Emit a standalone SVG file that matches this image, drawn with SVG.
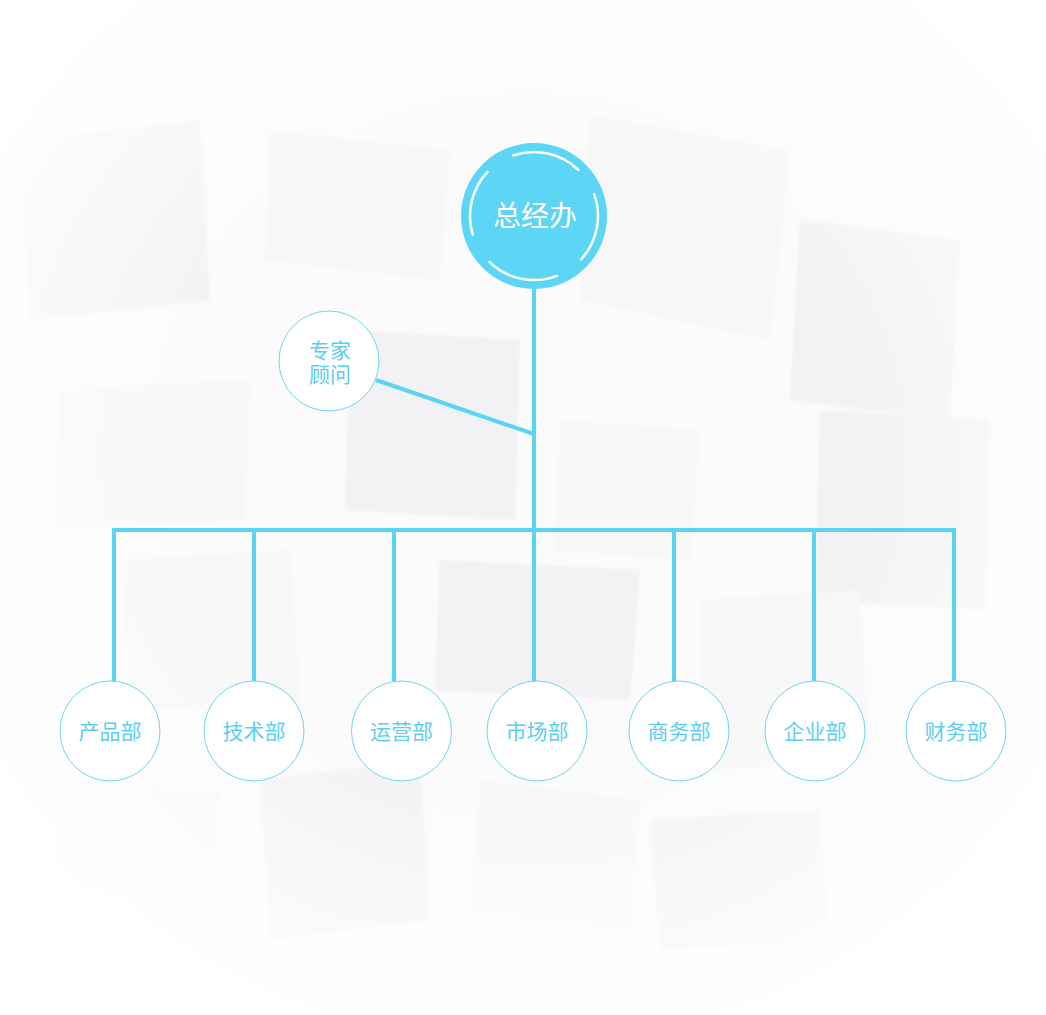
<svg xmlns="http://www.w3.org/2000/svg" width="1046" height="1015" viewBox="0 0 1046 1015">
<defs>
<style>
.dept{fill:#ffffff;stroke:#6fd4f1;stroke-width:1}
.lbl{font-family:"Noto Sans CJK SC","Noto Sans",sans-serif;font-size:21px;fill:#5ccff0;text-anchor:middle}
.lbl2{font-family:"Liberation Sans","Noto Sans CJK SC",sans-serif;font-size:21px;fill:#5ccff0;text-anchor:middle}
.conn{stroke:#5bd3f2;stroke-width:4;fill:none}
.ring{stroke:#ffffff;stroke-width:2.5;fill:none;stroke-linecap:round}
.cube{fill:#f2f2f4}
.cube2{fill:#f7f7f8}
</style>
<radialGradient id="fade" cx="50%" cy="45%" r="62%">
<stop offset="0.5" stop-color="#ffffff" stop-opacity="0"/>
<stop offset="1" stop-color="#ffffff" stop-opacity="1"/>
</radialGradient>
<filter id="soft" x="-5%" y="-5%" width="110%" height="110%">
<feGaussianBlur stdDeviation="1.5"/>
</filter>
</defs>
<rect width="1046" height="1015" fill="#fbfbfc"/>
<g id="background" filter="url(#soft)">
<polygon class="cube" points="20,140 200,120 210,300 30,320"/>
<polygon class="cube2" points="270,130 450,150 440,280 265,260"/>
<polygon class="cube2" points="590,115 790,150 770,340 580,300"/>
<polygon class="cube" points="800,220 960,240 950,420 790,400"/>
<polygon class="cube2" points="60,390 250,380 245,520 55,530"/>
<polygon class="cube" points="350,330 520,340 515,520 345,510"/>
<polygon class="cube2" points="560,420 700,430 690,560 555,550"/>
<polygon class="cube" points="820,410 990,420 985,610 815,600"/>
<polygon class="cube2" points="120,560 290,550 300,700 130,710"/>
<polygon class="cube" points="440,560 640,570 630,700 435,690"/>
<polygon class="cube2" points="700,600 860,590 870,760 705,770"/>
<polygon class="cube" points="260,780 420,760 430,920 270,940"/>
<polygon class="cube2" points="480,780 640,800 630,930 470,910"/>
<polygon class="cube" points="650,820 820,810 830,940 660,950"/>
<polygon class="cube2" points="60,780 220,790 210,900 55,890"/>
</g>
<rect width="1046" height="1015" fill="url(#fade)"/>
<g id="connectors">
<line class="conn" x1="534" y1="280" x2="534" y2="532"/>
<line class="conn" x1="376" y1="380" x2="534" y2="434"/>
<polyline class="conn" points="114,681 114,530 954,530 954,681"/>
<line class="conn" x1="254" y1="530" x2="254" y2="681"/>
<line class="conn" x1="394" y1="530" x2="394" y2="681"/>
<line class="conn" x1="534" y1="530" x2="534" y2="681"/>
<line class="conn" x1="674" y1="530" x2="674" y2="681"/>
<line class="conn" x1="814" y1="530" x2="814" y2="681"/>
</g>
<g id="node-zongjingban">
<circle cx="534" cy="216" r="73" fill="#5dd5f4"/>
<path class="ring" d="M513.2,155.5 A64,64 0 0 1 578.5,170"/>
<path class="ring" d="M594.1,194.1 A64,64 0 0 1 581.1,259.3"/>
<path class="ring" d="M556.9,275.8 A64,64 0 0 1 489.5,262"/>
<path class="ring" d="M472.8,234.7 A64,64 0 0 1 487.6,171.9"/>
<text x="535" y="226" font-family="'Noto Sans CJK SC','Noto Sans',sans-serif" font-size="28" fill="#ffffff" text-anchor="middle">总经办</text>
</g>
<g id="node-zhuanjiaguwen">
<circle class="dept" cx="329" cy="361" r="50"/>
<text class="lbl2" x="330" y="358">专家</text>
<text class="lbl2" x="330" y="382">顾问</text>
</g>
<g id="node-chanpinbu">
<circle class="dept" cx="110" cy="731" r="50"/>
<text class="lbl" x="110" y="739">产品部</text>
</g>
<g id="node-jishubu">
<circle class="dept" cx="254" cy="731" r="50"/>
<text class="lbl" x="254" y="739">技术部</text>
</g>
<g id="node-yunyingbu">
<circle class="dept" cx="401.5" cy="731" r="50"/>
<text class="lbl" x="401.5" y="739">运营部</text>
</g>
<g id="node-shichangbu">
<circle class="dept" cx="537" cy="731" r="50"/>
<text class="lbl" x="537" y="739">市场部</text>
</g>
<g id="node-shangwubu">
<circle class="dept" cx="679" cy="731" r="50"/>
<text class="lbl" x="679" y="739">商务部</text>
</g>
<g id="node-qiyebu">
<circle class="dept" cx="815" cy="731" r="50"/>
<text class="lbl" x="815" y="739">企业部</text>
</g>
<g id="node-caiwubu">
<circle class="dept" cx="956" cy="731" r="50"/>
<text class="lbl" x="956" y="739">财务部</text>
</g>
</svg>
